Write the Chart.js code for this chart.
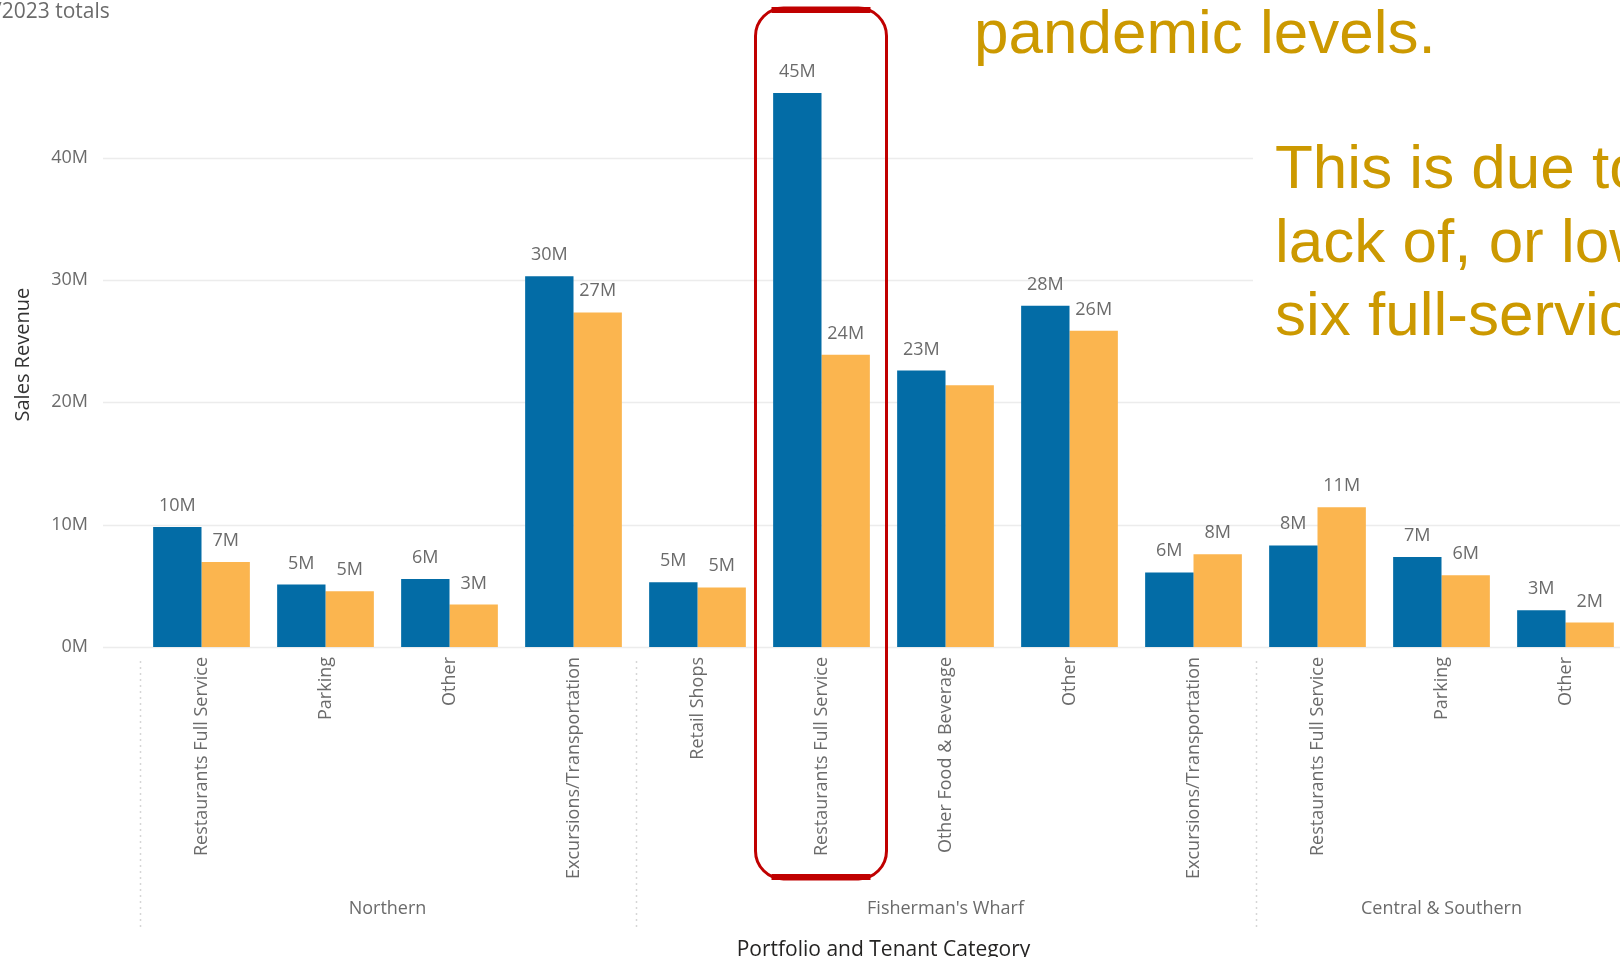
<!DOCTYPE html>
<html>
<head>
<meta charset="utf-8">
<title>Sales Revenue by Portfolio and Tenant Category</title>
<script src="https://cdn.jsdelivr.net/npm/chart.js@4.4.0/dist/chart.umd.min.js"></script>
<style>
  html, body { margin: 0; padding: 0; background: #fff; overflow: hidden; width: 1620px; height: 957px; }
  #wrap { position: relative; width: 1620px; height: 957px; overflow: hidden; }
  #myChart { position: absolute; left: 0; top: 0; }
  .note { position: absolute; font-family: "Liberation Sans", Arial, sans-serif; font-size: 62px; line-height: 73.5px; color: #cc9900; white-space: nowrap; }
  #totals { position: absolute; left: -6px; top: -2px; font-family: "Open Sans", sans-serif; font-size: 21px; line-height: 24px; color: #6b6b6b; white-space: nowrap; }
</style>
</head>
<body>
<div id="wrap">
  <canvas id="myChart" width="1640" height="957"></canvas>
  <div id="totals">/2023 totals</div>
  <div class="note" style="left:974px; top:-5px;">pandemic levels.</div>
  <div class="note" style="left:1253px; top:100px; padding:30px 0 20px 22px; width:400px; background:#fff;">This is due to<br>lack of, or lower<br>six full-service</div>
</div>
<script>
const categories = ['Restaurants Full Service', 'Parking', 'Other', 'Excursions/Transportation',
    'Retail Shops', 'Restaurants Full Service', 'Other Food & Beverage', 'Other', 'Excursions/Transportation',
    'Restaurants Full Service', 'Parking', 'Other'];
const portfolios = ['Northern', "Fisherman's Wharf", 'Central & Southern'];
const portfolioOf = [0, 0, 0, 0, 1, 1, 1, 1, 1, 2, 2, 2];
const revenue2019 = [9.8, 5.1, 5.55, 30.3, 5.3, 45.3, 22.6, 27.9, 6.1, 8.3, 7.35, 3.0];
const revenue2023 = [6.95, 4.55, 3.47, 27.35, 4.87, 23.9, 21.4, 25.85, 7.58, 11.43, 5.87, 2.0];
const hiddenLabels2023 = [6];
const highlighted = 5;

const labelFont = '"Open Sans", sans-serif';
const grey = '#6b6b6b';

// light horizontal grid, starts left of the plot like in Power BI
const gridLines = {
    id: 'gridLines',
    beforeDatasetsDraw(chart) {
        const ctx = chart.ctx;
        const yScale = chart.scales.y;
        ctx.save();
        ctx.strokeStyle = '#ececec';
        ctx.lineWidth = 1.5;
        yScale.ticks.forEach(t => {
            const y = Math.round(yScale.getPixelForValue(t.value)) + 0.5;
            ctx.beginPath();
            ctx.moveTo(103, y);
            ctx.lineTo(chart.chartArea.right, y);
            ctx.stroke();
        });
        ctx.restore();
    }
};

const valueLabels = {
    id: 'valueLabels',
    afterDatasetsDraw(chart) {
        const ctx = chart.ctx;
        ctx.save();
        ctx.font = '18px ' + labelFont;
        ctx.fillStyle = grey;
        ctx.textAlign = 'center';
        ctx.textBaseline = 'alphabetic';
        chart.data.datasets.forEach((ds, i) => {
            chart.getDatasetMeta(i).data.forEach((bar, j) => {
                if (i === 1 && hiddenLabels2023.includes(j)) return;
                ctx.fillText(Math.round(ds.data[j]) + 'M', bar.x, bar.y - 16);
            });
        });
        ctx.restore();
    }
};

const portfolioAxis = {
    id: 'portfolioAxis',
    afterDraw(chart) {
        const ctx = chart.ctx;
        const xScale = chart.scales.x;
        const step = xScale.getPixelForValue(1) - xScale.getPixelForValue(0);
        ctx.save();
        ctx.strokeStyle = '#d6d6d6';
        ctx.lineWidth = 1.5;
        ctx.setLineDash([2, 4]);
        portfolioOf.forEach((p, j) => {
            if (j > 0 && portfolioOf[j - 1] === p) return;
            const x = Math.round(xScale.getPixelForValue(j) - step / 2) + 0.5;
            ctx.beginPath();
            ctx.moveTo(x, chart.chartArea.bottom + 14);
            ctx.lineTo(x, 927);
            ctx.stroke();
        });
        ctx.setLineDash([]);
        ctx.font = '18px ' + labelFont;
        ctx.fillStyle = grey;
        ctx.textAlign = 'center';
        ctx.textBaseline = 'middle';
        portfolios.forEach((name, p) => {
            const first = portfolioOf.indexOf(p);
            const last = portfolioOf.lastIndexOf(p);
            const x = (xScale.getPixelForValue(first) + xScale.getPixelForValue(last)) / 2;
            ctx.fillText(name, x, 909);
        });

        // red highlight round the Fisherman's Wharf restaurants
        const cx = xScale.getPixelForValue(highlighted);
        const left = cx - 66, right = cx + 65, top = 8, bottom = 879;
        ctx.strokeStyle = '#c00000';
        ctx.fillStyle = '#c00000';
        ctx.lineWidth = 3;
        ctx.beginPath();
        ctx.roundRect(left, top, right - left, bottom - top, 28);
        ctx.stroke();
        ctx.fillRect(left + 16, top - 1, right - left - 32, 6);
        ctx.fillRect(left + 16, bottom - 5, right - left - 32, 6);
        ctx.restore();
    }
};

const ctx = document.getElementById('myChart').getContext('2d');
const chart = new Chart(ctx, {
    type: 'bar',
    data: {
        labels: categories,
        datasets: [{
            label: '2019',
            data: revenue2019,
            backgroundColor: '#036ca6',
            barPercentage: 1.0,
            categoryPercentage: 0.78
        }, {
            label: '2023',
            data: revenue2023,
            backgroundColor: '#fbb54f',
            barPercentage: 1.0,
            categoryPercentage: 0.78
        }]
    },
    options: {
        responsive: false,
        animation: false,
        layout: { padding: { left: 0, top: 49, right: 12.5, bottom: 0 } },
        plugins: {
            legend: { display: false },
            tooltip: { enabled: false }
        },
        scales: {
            x: {
                grid: { display: false, drawTicks: false },
                border: { display: false },
                ticks: {
                    autoSkip: false,
                    minRotation: 90,
                    maxRotation: 90,
                    padding: 10,
                    color: grey,
                    font: { family: labelFont, size: 18 }
                },
                title: {
                    display: true,
                    text: 'Portfolio and Tenant Category',
                    color: '#252423',
                    font: { family: labelFont, size: 21, lineHeight: 0.67 },
                    padding: { top: 0, bottom: 0 }
                },
                afterFit(scale) { scale.height = 310; }
            },
            y: {
                min: 0,
                max: 47.8,
                grid: { display: false, drawTicks: false },
                border: { display: false },
                ticks: {
                    stepSize: 10,
                    includeBounds: false,
                    padding: 51.5,
                    color: grey,
                    font: { family: labelFont, size: 18 },
                    callback: value => value + 'M'
                },
                title: {
                    display: true,
                    text: 'Sales Revenue',
                    color: '#333333',
                    font: { family: labelFont, size: 20 },
                    padding: { top: 11, bottom: 0 }
                },
                afterFit(scale) { scale.width = 139.5; }
            }
        }
    },
    plugins: [gridLines, valueLabels, portfolioAxis]
});
</script>
</body>
</html>
